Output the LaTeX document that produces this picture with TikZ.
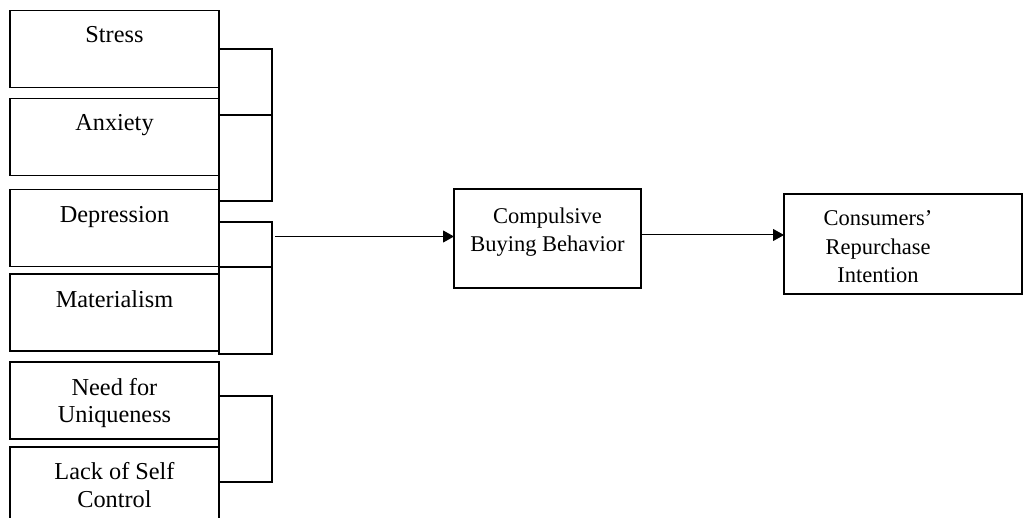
\documentclass[tikz,border=0pt]{standalone}
\usepackage{fontspec}
\setmainfont{Liberation Serif}
\usetikzlibrary{arrows.meta,calc}
\begin{document}
\begin{tikzpicture}[x=1pt,y=-1pt,
  box/.style={draw, line width=1.5pt, inner sep=0pt, outer sep=0pt},
  factor/.style={box, minimum width=209pt, minimum height=77pt},
  brk/.style={box, minimum width=53pt},
  lbl/.style={font=\fontsize{22.5}{28.5}\selectfont, align=center, anchor=base, inner sep=0pt},
  flbl/.style={lbl, font=\fontsize{24.3}{27.5}\selectfont},
  arr/.style={line width=1pt, -{Triangle[length=11pt,width=12pt]}}]
\useasboundingbox (0,0) rectangle (1024,518);
% left factor boxes
\node[factor] (stress) at (114.5,49) {};
\node[factor] (anx) at (114.5,137) {};
\node[factor] (dep) at (114.5,228) {};
\node[factor] (mat) at (114.5,312.5) {};
\node[factor] (need) at (114.5,400.5) {};
\node[factor] (lack) at (114.5,485.5) {};
\node[flbl] (stressT) at ($(stress.north)+(0,32.5)$) {Stress};
\node[flbl] (anxT) at ($(anx.north)+(0,32.5)$) {Anxiety};
\node[flbl] (depT) at ($(dep.north)+(0,33)$) {Depression};
\node[flbl] (matT) at ($(mat.north)+(0,34)$) {Materialism};
\node[flbl] (needT) at ($(need.north)+(0,60.5)$) {Need for\\Uniqueness};
\node[flbl] (lackT) at ($(lack.north)+(0,60)$) {Lack of Self\\Control};
% brackets
\node[brk, minimum height=66pt] (br1a) at (245.5,82) {};
\node[brk, minimum height=86pt] (br1b) at (245.5,158) {};
\node[brk, minimum height=45pt] (br2a) at (245.5,244.5) {};
\node[brk, minimum height=87pt] (br2b) at (245.5,310.5) {};
\node[brk, minimum height=86pt] (br3) at (245.5,439) {};
% outcome boxes
\node[box, minimum width=187pt, minimum height=99pt] (cbb) at (547.5,238.5) {};
\node[box, minimum width=238pt, minimum height=100pt] (crp) at (903,244) {};
\node[lbl] (cbbT) at ($(cbb.north)+(0,63)$) {Compulsive\\Buying Behavior};
\node[lbl] (crpT) at (878,283) {Consumers’\\Repurchase\\Intention};
% connectors
\coordinate (src) at ($(br2a.east)+(3,-8)$);
\draw[arr] (src) -- (src -| cbb.west);
\coordinate (mid) at ($(cbb.east)+(0,-3.5)$);
\draw[arr] (mid) -- (mid -| crp.west);
\end{tikzpicture}
\end{document}
